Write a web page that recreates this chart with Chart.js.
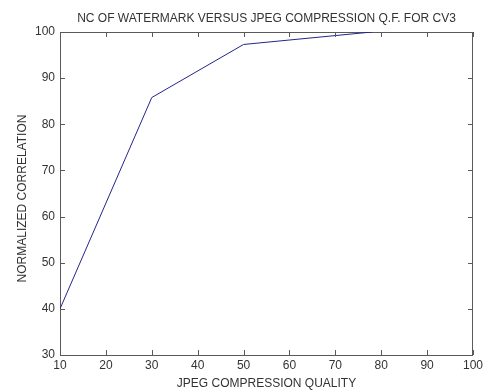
<!DOCTYPE html>
<html>
<head>
<meta charset="utf-8">
<script src="https://cdn.jsdelivr.net/npm/chart.js@4/dist/chart.umd.min.js"></script>
<style>
html,body{margin:0;padding:0;background:#fff;}
#wrap{width:486px;height:391px;position:relative;}
</style>
</head>
<body>
<div id="wrap"><canvas id="c"></canvas></div>
<script>
const qualityLevels = [10, 30, 50, 78];
const ncValues = [40, 85.8, 97.3, 100];
const xTickValues = [10, 20, 30, 40, 50, 60, 70, 80, 90, 100];
const yTickValues = [30, 40, 50, 60, 70, 80, 90, 100];
const titleText = 'NC OF WATERMARK VERSUS JPEG COMPRESSION Q.F. FOR CV3';
const xLabel = 'JPEG COMPRESSION QUALITY';
const yLabel = 'NORMALIZED CORRELATION';

const FONT = {family: '"Liberation Sans", Arial, sans-serif', size: 12};
const TEXT = '#333333';
const AXIS = '#5a5a5a';

const points = qualityLevels.map((q, i) => ({x: q, y: ncValues[i]}));

const innerTicks = {
  id: 'innerTicks',
  afterDraw(chart) {
    const {ctx, chartArea: a, scales} = chart;
    const len = 5;
    ctx.save();
    ctx.strokeStyle = AXIS;
    ctx.lineWidth = 1;
    ctx.beginPath();
    xTickValues.forEach(v => {
      const px = Math.round(scales.x.getPixelForValue(v)) + 0.5;
      ctx.moveTo(px, a.bottom); ctx.lineTo(px, a.bottom - len);
      ctx.moveTo(px, a.top); ctx.lineTo(px, a.top + len);
    });
    yTickValues.forEach(v => {
      const py = Math.round(scales.y.getPixelForValue(v)) + 0.5;
      ctx.moveTo(a.left, py); ctx.lineTo(a.left + len, py);
      ctx.moveTo(a.right, py); ctx.lineTo(a.right - len, py);
    });
    ctx.stroke();
    // y axis label, slightly below the plot's vertical centre as in the reference
    ctx.fillStyle = TEXT;
    ctx.font = FONT.size + 'px ' + FONT.family;
    ctx.textAlign = 'center';
    ctx.textBaseline = 'middle';
    ctx.translate(22.5, (a.top + a.bottom) / 2 + 5);
    ctx.rotate(-Math.PI / 2);
    ctx.fillText(yLabel, 0, 0);
    ctx.restore();
  }
};

const gridOff = {display: true, drawOnChartArea: false, drawTicks: false};
const border = {display: true, color: AXIS, width: 1};

new Chart(document.getElementById('c'), {
  type: 'scatter',
  data: {
    datasets: [{
      data: points,
      showLine: true,
      borderColor: '#24248c',
      borderWidth: 1,
      pointRadius: 0,
      fill: false,
      tension: 0
    }]
  },
  options: {
    responsive: true,
    maintainAspectRatio: false,
    animation: false,
    layout: {padding: 0},
    plugins: {legend: {display: false}, title: {display: false}, tooltip: {enabled: false}},
    scales: {
      x: {
        type: 'linear', position: 'bottom', min: 10, max: 100,
        grid: gridOff, border: border,
        afterBuildTicks: s => { s.ticks = xTickValues.map(v => ({value: v})); },
        ticks: {font: FONT, color: TEXT, padding: 3, maxRotation: 0, autoSkip: false},
        title: {display: true, text: xLabel, font: FONT, color: TEXT, padding: {top: 0, bottom: 0}},
        afterFit: s => { s.height = 36; }
      },
      x2: {
        type: 'linear', position: 'top', min: 10, max: 100,
        grid: gridOff, border: border,
        ticks: {display: false},
        title: {display: true, text: titleText, font: FONT, color: TEXT, padding: {top: 11.2, bottom: 0}},
        afterFit: s => { s.height = 32; }
      },
      y: {
        type: 'linear', position: 'left', min: 30, max: 100,
        grid: gridOff, border: border,
        afterBuildTicks: s => { s.ticks = yTickValues.map(v => ({value: v})); },
        ticks: {font: FONT, color: TEXT, padding: 5, autoSkip: false},
        title: {display: false},
        afterFit: s => { s.width = 60; }
      },
      y2: {
        type: 'linear', position: 'right', min: 30, max: 100,
        grid: gridOff, border: border,
        ticks: {display: false},
        afterFit: s => { s.width = 13; }
      }
    }
  },
  plugins: [innerTicks]
});
</script>
</body>
</html>
